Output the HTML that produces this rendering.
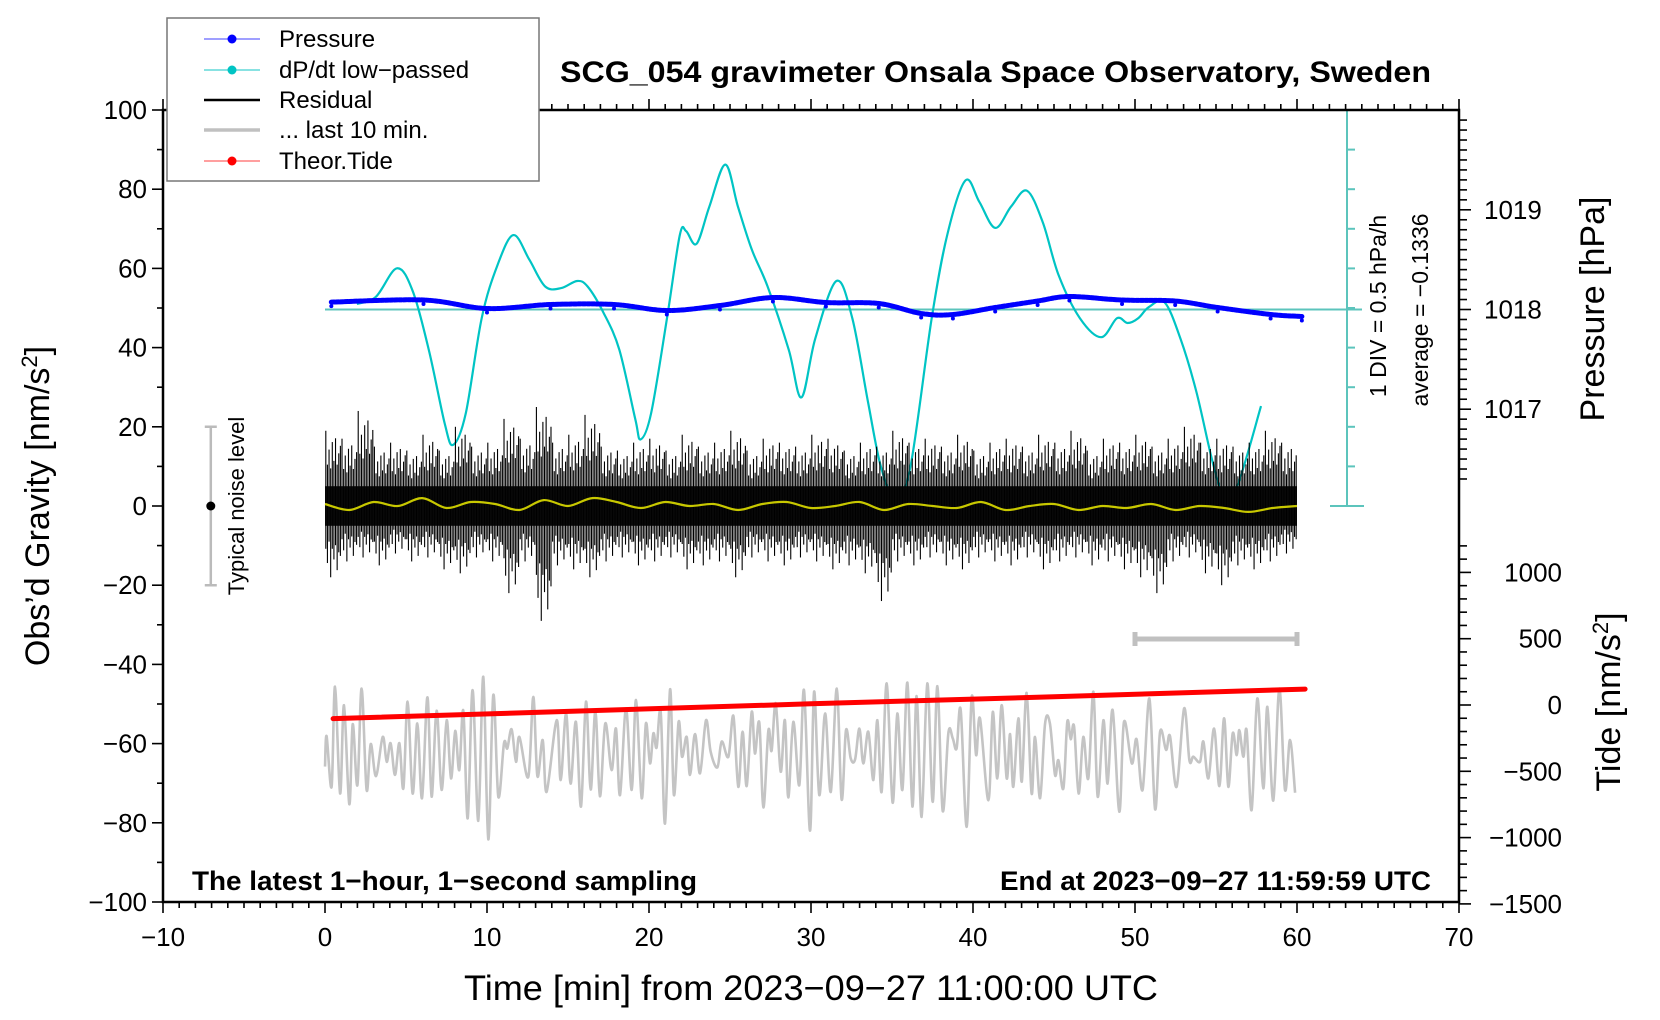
<!DOCTYPE html>
<html><head><meta charset="utf-8"><style>
html,body{margin:0;padding:0;background:#fff;}
svg{display:block;font-family:"Liberation Sans",sans-serif;}
</style></head><body>
<svg id="chart" width="1660" height="1020" viewBox="0 0 1660 1020" xmlns="http://www.w3.org/2000/svg">
<g id="layer-cyan"></g><g id="layer-res"></g><g id="layer-top"></g><g id="layer-axes"></g>
</svg>
<script>
// ---- data ----
const dpdtT=[1.96,3.14,4.44,5.42,6.41,7.39,7.91,8.69,9.67,10.65,11.63,12.61,13.59,14.58,15.56,16.21,17.19,18.17,19.15,19.48,20.13,21.11,21.9,22.29,22.94,23.73,24.71,25.49,26.34,27.32,28.63,29.41,30.26,31.57,32.55,33.53,34.31,35.2,36.14,37.45,38.43,39.54,40.39,41.37,42.35,43.33,44.31,45.29,46.6,47.91,48.89,49.54,50.2,50.85,51.83,52.81,53.79,54.77,55.42,56.27,57.78];
const dpdtV=[0.07,0.16,0.52,0.23,-0.51,-1.44,-1.71,-1.31,-0.11,0.56,0.94,0.63,0.29,0.27,0.36,0.29,-0.04,-0.51,-1.38,-1.64,-1.31,-0.11,0.94,0.99,0.83,1.3,1.83,1.3,0.76,0.29,-0.51,-1.11,-0.37,0.36,-0.11,-1.18,-1.98,-2.4,-1.98,-0.11,0.96,1.63,1.36,1.03,1.3,1.5,1.1,0.43,-0.11,-0.35,-0.11,-0.17,-0.11,0.03,0.09,-0.37,-1.04,-1.91,-2.31,-2.25,-1.22];
const presT=[0.39,6.08,10,13.92,17.84,21.1,24.38,27.65,30.92,34.18,36.8,38.76,41.37,43.99,45.95,49.2,52.48,55.1,58.37,60.3];
const presV=[1018.074,1018.095,1018.01,1018.05,1018.05,1017.99,1018.04,1018.12,1018.07,1018.06,1017.96,1017.95,1018.02,1018.085,1018.13,1018.095,1018.085,1018.02,1017.95,1017.93];
const resMax=[19,17,24,15,16,14,18,14,20,15,16,22,17,25,16,18,23,15,14,16,17,14,18,15,16,19,14,17,16,15,18,17,14,16,15,19,16,17,15,18,14,16,17,15,18,16,19,14,17,16,18,15,17,20,16,17,15,16,19,16];
const resMin=[-18,-14,-13,-15,-12,-14,-13,-16,-17,-13,-14,-22,-14,-29,-15,-16,-18,-14,-13,-15,-14,-13,-16,-15,-14,-18,-13,-14,-15,-13,-14,-16,-15,-17,-24,-14,-15,-13,-15,-16,-13,-14,-15,-13,-16,-14,-13,-15,-14,-16,-18,-22,-14,-13,-17,-20,-15,-16,-14,-12];
const smoothV=[0.5,-1,1,0,2,-0.5,1,0.5,-1,1.5,0,2,1,-0.5,1,0,0.5,-1,0.5,1,-0.5,0,1,-1,0.5,0,-0.5,1,-1,0,0.5,-1,0,-0.5,0.5,-1,0,-0.5,-1.5,-0.5,0];
const grayT=[0,0.1,0.41,0.62,0.93,1.17,1.5,1.71,2,2.26,2.57,2.82,3.15,3.56,3.81,4.05,4.32,4.59,4.84,5.1,5.41,5.7,5.99,6.32,6.58,6.89,7.2,7.51,7.78,8.04,8.29,8.54,8.81,9.11,9.46,9.77,10.08,10.39,10.7,11.05,11.25,11.52,11.79,12,12.55,12.86,13.11,13.44,13.68,14.3,14.55,14.88,15.16,15.49,15.8,16.11,16.4,16.69,16.97,17.3,17.69,17.96,18.21,18.58,18.93,19.2,19.55,19.81,20.06,20.27,20.47,20.72,20.99,21.3,21.54,21.83,22.04,22.33,22.53,22.84,23.15,23.52,23.81,24.22,24.49,24.9,25.21,25.51,25.78,26.03,26.34,26.54,26.81,27.06,27.37,27.57,27.82,28.13,28.39,28.6,28.91,29.28,29.57,29.94,30.19,30.51,30.87,31.22,31.59,31.89,32.16,32.45,32.72,32.99,33.23,33.54,33.85,34.1,34.36,34.67,35.04,35.33,35.64,35.95,36.26,36.52,36.83,37.18,37.51,37.8,38.13,38.48,38.75,38.99,39.24,39.61,39.92,40.19,40.43,40.95,41.22,41.5,41.77,42.08,42.29,42.49,42.8,43.01,43.31,43.62,43.83,44.14,44.45,44.75,45.06,45.27,45.58,45.82,46.03,46.24,46.52,46.81,47.12,47.43,47.7,48.05,48.31,48.62,49.03,49.32,49.8,50.1,50.47,50.89,51.24,51.55,51.92,52.16,52.57,53.03,53.36,53.6,54.01,54.22,54.53,54.88,55.21,55.5,55.76,56.03,56.28,56.44,56.69,56.89,57.2,57.55,57.92,58.17,58.54,58.91,59.26,59.57,59.88];
const grayV=[-65.8,-58.1,-70.9,-45.6,-72.6,-50.3,-75.3,-55.1,-70.5,-46.1,-71.7,-60.1,-68.2,-58.3,-64.6,-59.9,-67.9,-59.9,-71.3,-49.4,-72.6,-54.9,-73.8,-48.3,-73.4,-51.7,-71.7,-54.1,-68.8,-56.8,-66.7,-51.7,-78.9,-46.5,-79.5,-43.1,-84.2,-47.7,-73.4,-59.9,-61.2,-56.4,-64.6,-58.3,-68.4,-48.2,-68.2,-59.1,-72.2,-54.1,-69.2,-52.4,-70.1,-54.5,-75.9,-49.4,-71.6,-51.8,-73.3,-54.9,-66.7,-56.2,-73,-51.1,-71.7,-49,-73.8,-54.9,-65,-57.4,-61,-52,-80.2,-46.3,-73,-54.5,-63.3,-58.3,-67.9,-57.6,-67.5,-54.1,-62.1,-66,-59.5,-63.3,-53,-70.9,-57,-70.7,-52,-62.5,-54.7,-76.1,-56.7,-61.8,-49.8,-67.1,-54.1,-73.6,-54.5,-70.5,-46.5,-82,-46.9,-73,-52.4,-72.2,-46.1,-74.1,-56.6,-63.7,-64,-56.2,-65,-57,-69.2,-54.1,-72.2,-44.8,-74.9,-52.4,-71.7,-44.6,-75.9,-48,-78.5,-44.8,-74.7,-45.5,-77,-57.3,-58.7,-61.2,-51.5,-81,-48.2,-62.9,-53.6,-74.3,-52,-68.8,-50.3,-68.8,-57.6,-70.9,-53.6,-69.6,-47.2,-72.6,-58.3,-73.8,-54.9,-54.9,-67.9,-64.2,-71.3,-54.5,-58.9,-55.7,-72.6,-58.3,-68.8,-46.9,-73.4,-54.1,-70.1,-51.5,-77.2,-54.5,-65,-58.9,-71.7,-48.6,-76.6,-57,-61.6,-58.1,-70.9,-51.1,-64.2,-63.3,-64.6,-59.5,-68.8,-56.2,-70.7,-53.6,-70.9,-57.4,-62.9,-56.6,-63.3,-56.6,-76.8,-48.6,-71.3,-50.7,-74.4,-46.1,-71.7,-59.1,-72.4];
const tideT=[0.5,15,30,45,60.5];
const tideV=[-103,-48,9,62,120];
const xTicks=[-10,0,10,20,30,40,50,60,70];
const gTicks=[100,80,60,40,20,0,-20,-40,-60,-80,-100];
const pTicks=[1019,1018,1017];
const tTicks=[1000,500,0,-500,-1000,-1500];

// ---- scales ----
const X0=163,X1=1459,Y0=110,Y1=902;
const xs=t=>325+16.2*t;
const gy=g=>506-g*3.96;
const py=p=>309.5-(p-1018)*99.7;
const dy=v=>309.5-v*79.2;
const ty=v=>705-v*0.1326;
const NS="http://www.w3.org/2000/svg";
function mk(tag,parent,attrs,text){const e=document.createElementNS(NS,tag);for(const k in attrs)e.setAttribute(k,attrs[k]);if(text!==undefined)e.textContent=text;parent.appendChild(e);return e;}
function smoothPath(px,py2){let d="M"+px[0].toFixed(1)+","+py2[0].toFixed(1);for(let i=0;i<px.length-1;i++){const p0=i>0?i-1:i,p3=i+2<px.length?i+2:i+1;const c1x=px[i]+(px[i+1]-px[p0])/6,c1y=py2[i]+(py2[i+1]-py2[p0])/6;const c2x=px[i+1]-(px[p3]-px[i])/6,c2y=py2[i+1]-(py2[p3]-py2[i])/6;d+="C"+c1x.toFixed(1)+","+c1y.toFixed(1)+" "+c2x.toFixed(1)+","+c2y.toFixed(1)+" "+px[i+1].toFixed(1)+","+py2[i+1].toFixed(1);}return d;}

const Lc=document.getElementById('layer-cyan'),Lr=document.getElementById('layer-res'),Lt=document.getElementById('layer-top'),La=document.getElementById('layer-axes');

let e;
e=mk('line',Lc,{x1:325,y1:py(1018),x2:1362,y2:py(1018),stroke:'#5cc4bc','stroke-width':2});


e=mk('line',Lc,{x1:1347,y1:Y0,x2:1347,y2:506,stroke:'#5cc4bc','stroke-width':2});


for(let i=0;i<=10;i++){const yy=Y0+i*39.6;const w=(i==0||i==10)?[1330,1364]:[1347,1355];
 e=mk('line',Lc,{x1:w[0],y1:yy,x2:w[1],y2:yy,stroke:'#5cc4bc','stroke-width':2});
 
 }
e=mk('path',Lc,{d:smoothPath(dpdtT.map(xs),dpdtV.map(dy)),fill:'none',stroke:'#00c4c4','stroke-width':2.2});



// pressure
e=mk('path',Lc,{d:smoothPath(presT.map(xs),presV.map(py)),fill:'none',stroke:'#0000ff','stroke-width':5,'stroke-linecap':'round','stroke-dasharray':'3 1.5'});


presT.forEach((t,i)=>{const c=mk('circle',Lc,{cx:xs(t),cy:py(presV[i])+4,r:2,fill:'#0000ff'});
 
 });

// residual
e=mk('rect',Lr,{x:xs(0),y:gy(5),width:xs(60)-xs(0),height:gy(-5)-gy(5),fill:'#111'});


const segs=[[0.05,1,0.6],[0.15,0.55,0.8],[0.25,0.75,0.5],[0.35,0.5,1],[0.45,0.85,0.6],[0.55,0.6,0.75],[0.65,0.9,0.55],[0.75,0.55,0.9],[0.85,0.7,0.65],[0.95,0.8,0.7]];
resMax.forEach((mx,i)=>{const mn=resMin[i];
 segs.forEach(s=>{const l=mk('line',Lr,{x1:xs(i+s[0]),x2:xs(i+s[0]),y1:gy(mx*s[1]),y2:gy(mn*s[2]),stroke:'#000','stroke-width':1.1});
  
  });});
e=mk('path',Lr,{d:smoothPath(smoothV.map((v,i)=>xs(i*1.5)),smoothV.map(gy)),fill:'none',stroke:'#c8c800','stroke-width':2.2});



e=mk('path',Lt,{d:smoothPath(grayT.map(xs),grayV.map(gy)),fill:'none',stroke:'#c4c4c4','stroke-width':2.6});


e=mk('polyline',Lt,{points:tideT.map((t,i)=>xs(t)+','+ty(tideV[i])).join(' '),fill:'none',stroke:'#ff0000','stroke-width':5,'stroke-linecap':'round'});


e=mk('path',Lt,{d:`M${xs(50)},639H${xs(60)}M${xs(50)},632V646M${xs(60)},632V646`,stroke:'#c0c0c0','stroke-width':5,fill:'none'});


const nx=xs(-7.05);
e=mk('path',Lt,{d:`M${nx},${gy(20)}V${gy(-20)}M${nx-6},${gy(20)}H${nx+6}M${nx-6},${gy(-20)}H${nx+6}`,stroke:'#bbb','stroke-width':2.5,fill:'none'});


e=mk('circle',Lt,{cx:nx,cy:gy(0),r:4.5,fill:'#000'});


e=mk('text',Lt,{x:0,y:0,transform:`translate(244,${gy(0)}) rotate(-90)`,'text-anchor':'middle','font-size':22},'Typical noise level');



e=mk('rect',La,{x:X0,y:Y0,width:X1-X0,height:Y1-Y0,fill:'none',stroke:'#000','stroke-width':2.5});


for(let t=-10;t<=70;t++){const maj=t%10==0;const L=maj?11:6;
 e=mk('line',La,{x1:xs(t),x2:xs(t),y1:Y1,y2:Y1+L,stroke:'#000','stroke-width':1.6});
 
 
 e=mk('line',La,{x1:xs(t),x2:xs(t),y1:Y0,y2:Y0-L,stroke:'#000','stroke-width':1.6});
 
 }
xTicks.forEach(t=>{e=mk('text',La,{x:xs(t),y:946,'text-anchor':'middle','font-size':26},String(t).replace('-','\u2212'));
 
 });
for(let g=-100;g<=100;g+=10){const maj=g%20==0;
 e=mk('line',La,{x1:X0,x2:X0-(maj?11:6),y1:gy(g),y2:gy(g),stroke:'#000','stroke-width':1.6});
 
 }
gTicks.forEach(g=>{e=mk('text',La,{x:X0-16,y:gy(g)+9,'text-anchor':'end','font-size':26},String(g).replace('-','\u2212'));
 
 });
for(let k=-17;k<=19;k++){const p=1018+k/10;const maj=k%10==0;
 e=mk('line',La,{x1:X1,x2:X1+(maj?12:8),y1:py(p),y2:py(p),stroke:'#000','stroke-width':1.6});
 
 }
pTicks.forEach(p=>{e=mk('text',La,{x:1484,y:py(p)+9,'font-size':26},String(p));
 
 });
for(let v=-1500;v<=1200;v+=100){const maj=v%500==0;
 e=mk('line',La,{x1:X1,x2:X1+(maj?12:8),y1:ty(v),y2:ty(v),stroke:'#000','stroke-width':1.6});
 
 }
tTicks.forEach(v=>{e=mk('text',La,{x:1562,y:ty(v)+9,'text-anchor':'end','font-size':26},String(v).replace('-','\u2212'));
 
 });
</script>
<svg width="1660" height="1020" viewBox="0 0 1660 1020" style="position:absolute;left:0;top:0;font-family:'Liberation Sans',sans-serif">
<text x="560" y="82" font-size="30" font-weight="bold" textLength="871" lengthAdjust="spacingAndGlyphs">SCG_054 gravimeter Onsala Space Observatory, Sweden</text>
<text x="192" y="890" font-size="27" font-weight="bold" textLength="505" lengthAdjust="spacingAndGlyphs">The latest 1−hour, 1−second sampling</text>
<text x="1000" y="890" font-size="27" font-weight="bold" textLength="431" lengthAdjust="spacingAndGlyphs">End at 2023−09−27 11:59:59 UTC</text>
<text x="464" y="1000" font-size="35" textLength="694" lengthAdjust="spacingAndGlyphs">Time [min] from 2023−09−27 11:00:00 UTC</text>
<text transform="translate(49,506) rotate(-90)" text-anchor="middle" font-size="34">Obs’d Gravity [nm/s<tspan font-size="22" dy="-12">2</tspan><tspan dy="12">]</tspan></text>
<text transform="translate(1604,309) rotate(-90)" text-anchor="middle" font-size="34">Pressure [hPa]</text>
<text transform="translate(1620,702) rotate(-90)" text-anchor="middle" font-size="34">Tide [nm/s<tspan font-size="22" dy="-12">2</tspan><tspan dy="12">]</tspan></text>
<text transform="translate(1386,306) rotate(-90)" text-anchor="middle" font-size="23">1 DIV = 0.5 hPa/h</text>
<text transform="translate(1428,310) rotate(-90)" text-anchor="middle" font-size="23">average = −0.1336</text>
<g>
<rect x="167" y="18" width="372" height="163" fill="#fff" stroke="#777" stroke-width="1.5"/>
<g><line x1="204" y1="39" x2="260" y2="39" stroke="#6666ff" stroke-width="1.2"/><circle cx="232" cy="39" r="4.5" fill="#0000ff"/><text x="279" y="47" font-size="24">Pressure</text></g>
<g><line x1="204" y1="70" x2="260" y2="70" stroke="#40d0d0" stroke-width="1.2"/><circle cx="232" cy="70" r="4.5" fill="#00c4c4"/><text x="279" y="78" font-size="24">dP/dt low−passed</text></g>
<g><line x1="204" y1="100" x2="260" y2="100" stroke="#000" stroke-width="2.5"/><text x="279" y="108" font-size="24">Residual</text></g>
<g><line x1="204" y1="130" x2="260" y2="130" stroke="#c0c0c0" stroke-width="3.5"/><text x="279" y="138" font-size="24">... last 10 min.</text></g>
<g><line x1="204" y1="161" x2="260" y2="161" stroke="#ff6666" stroke-width="1.2"/><circle cx="232" cy="161" r="4.5" fill="#ff0000"/><text x="279" y="169" font-size="24">Theor.Tide</text></g>
</g>
</svg>
</body></html>
